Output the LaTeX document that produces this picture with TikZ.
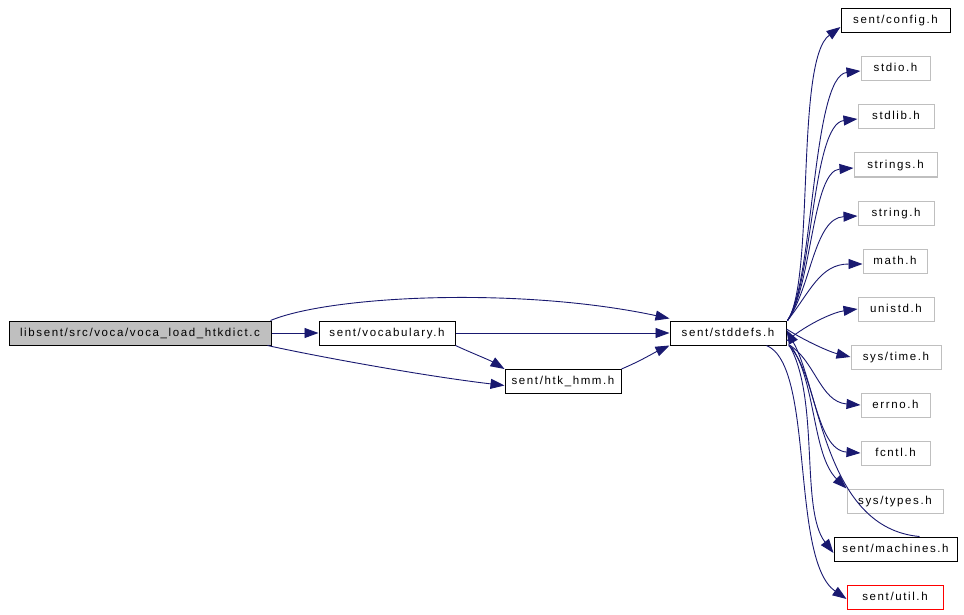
\documentclass[tikz,border=0pt]{standalone}
\usepackage{fontspec}
\setmainfont{Liberation Sans}[LetterSpace=14]
\usetikzlibrary{arrows.meta}
\definecolor{edgeblue}{HTML}{191970}
\definecolor{boxgray}{HTML}{BFBFBF}
\tikzset{
  filebox/.style={draw=black, line width=1pt, minimum height=24pt, inner sep=0pt, text height=8.5pt, text depth=2.5pt, font=\fontsize{11.5}{13}\selectfont, text=black},
  sysbox/.style={filebox, draw=boxgray},
  mainbox/.style={filebox, fill=boxgray},
  redbox/.style={filebox, draw=red},
  dep/.style={draw=edgeblue, line width=0.9pt, -{Triangle[length=14pt,width=10pt]}}
}
\begin{document}
\begin{tikzpicture}[x=1pt,y=-1pt]
\useasboundingbox (0,0) rectangle (964,615);
% nodes
\node[mainbox, minimum width=262pt] (main) at (140,333) {libsent/src/voca/voca\_load\_htkdict.c};
\node[filebox, minimum width=136pt] (voc) at (387,333) {sent/vocabulary.h};
\node[filebox, minimum width=116pt] (htk) at (563,381.5) {sent/htk\_hmm.h};
\node[filebox, minimum width=116pt] (std) at (728,333) {sent/stddefs.h};
\node[filebox, minimum width=109pt] (cfg) at (895.5,21) {sent/config.h};
\node[sysbox, minimum width=69pt] (stdio) at (895.5,69) {stdio.h};
\node[sysbox, minimum width=76pt] (stdlib) at (896,117) {stdlib.h};
\node[sysbox, minimum width=83pt] (strings) at (895.5,165) {strings.h};
\node[sysbox, minimum width=76pt] (string) at (896,213) {string.h};
\node[sysbox, minimum width=64pt] (math) at (895,261) {math.h};
\node[sysbox, minimum width=76pt] (unistd) at (896,309) {unistd.h};
\node[sysbox, minimum width=90pt] (systime) at (896,357) {sys/time.h};
\node[sysbox, minimum width=69pt] (errno) at (895.5,405) {errno.h};
\node[sysbox, minimum width=69pt] (fcntl) at (895.5,453) {fcntl.h};
\node[sysbox, minimum width=96pt] (systypes) at (895,501) {sys/types.h};
\node[filebox, minimum width=123pt] (mach) at (895.5,549) {sent/machines.h};
\node[redbox, minimum width=96pt] (util) at (895,597) {sent/util.h};
% coordinates on node borders
\coordinate (stdTR) at ([xshift=1pt]std.north east);
% left edges
\draw[dep] (main.east) -- (voc.west);
\draw[dep] (voc.east) -- (std.west);
\draw[dep] ([xshift=-1pt]main.north east) .. controls +(60,-25) and +(-150,-32) .. ([yshift=2pt]std.north west);
\draw[dep] ([xshift=-4pt]main.south east) .. controls +(40,9) and +(-85,-10) .. ([yshift=-4pt]htk.west);
\draw[dep] ([yshift=0pt]voc.south east) .. controls +(15,7) and +(-15,-9) .. (htk.north west);
\draw[dep] (htk.north east) .. controls +(19,-8) and +(-15,7) .. (std.south west);
% right fan (upper)
\draw[dep] (stdTR) .. controls (815,280) and (795,60) .. ([yshift=-6pt]cfg.west);
\draw[dep] (stdTR) .. controls (814,282) and (812,76) .. ([yshift=-2pt]stdio.west);
\draw[dep] (stdTR) .. controls (813,284) and (812,124) .. ([yshift=-2pt]stdlib.west);
\draw[dep] (stdTR) .. controls (812,286) and (812,171) .. ([yshift=-3pt]strings.west);
\draw[dep] (stdTR) .. controls (811,288) and (814,218) .. ([yshift=-3pt]string.west);
\draw[dep] (stdTR) .. controls (810,292) and (820,264) .. ([yshift=-3pt]math.west);
\draw[dep] ([yshift=-8pt]std.east) .. controls (810,322) and (835,312) .. (unistd.west);
\draw[dep] ([yshift=4pt]std.east) .. controls (805,341) and (830,352) .. (systime.west);
% right fan (lower)
\draw[dep] ([xshift=2pt,yshift=1pt]std.south east) .. controls (815,360) and (820,402) .. (errno.west);
\draw[dep] ([xshift=2pt]std.south east) .. controls (815,370) and (815,450) .. (fcntl.west);
\draw[dep] ([xshift=4pt]std.south east) .. controls (816,380) and (812,455) .. (systypes.north west);
\draw[dep] ([xshift=3pt]std.south east) .. controls (820,400) and (800,510) .. ([yshift=-4pt]mach.west);
\draw[dep] ([xshift=-20pt]std.south east) .. controls (815,365) and (790,560) .. ([yshift=-2pt]util.west);
\draw[dep] ([xshift=-38pt]mach.north east) .. controls (825,528) and (820,390) .. ([yshift=3pt]std.east);
\end{tikzpicture}
\end{document}
